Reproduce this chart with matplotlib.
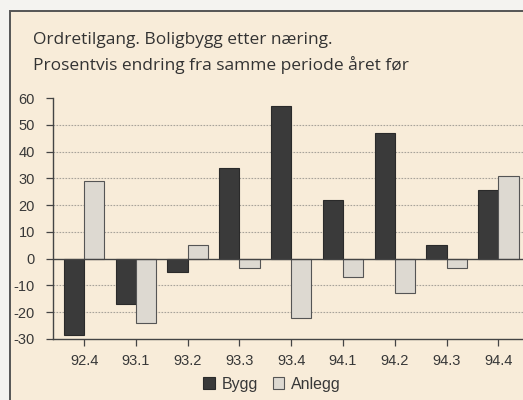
import numpy as np
import matplotlib.pyplot as plt
from matplotlib.patches import Rectangle

plt.rcParams['axes.unicode_minus'] = False

perioder = ['92.4', '93.1', '93.2', '93.3', '93.4', '94.1', '94.2', '94.3', '94.4']
bygg = [-28.5, -17, -5, 34, 57, 22, 47, 5, 25.5]
anlegg = [29, -24, 5, -3.5, -22, -7, -13, -3.5, 31]

bg = '#f8ecd9'
fig = plt.figure(figsize=(5.23, 4.0), dpi=100)
fig.patch.set_facecolor('#f4f3f0')

# ramme rundt figuren
fig.patches.append(Rectangle((10/523, -0.05), 1.2, 0.9725 + 0.05,
                             transform=fig.transFigure, facecolor=bg,
                             edgecolor='#555555', lw=1.4, zorder=-5))

fig.text(33/523, 0.90, 'Ordretilgang. Boligbygg etter næring.', fontsize=12.5,
         family='Open Sans', color='#333333', va='center')
fig.text(33/523, 0.8375, 'Prosentvis endring fra samme periode året før', fontsize=12.5,
         family='Open Sans', color='#333333', va='center')

ax = fig.add_axes([53/523, 1 - 339/400, 1 - 53/523, (339 - 98)/400])
ax.set_zorder(2)
ax.set_facecolor('none')
x = np.arange(len(perioder))
w = 0.39
ax.bar(x - w/2, bygg, w, color='#3a3a3a', edgecolor='#2a2a2a', lw=0.8, label='Bygg', zorder=3)
ax.bar(x + w/2, anlegg, w, color='#ddd9d1', edgecolor='#555555', lw=0.8, label='Anlegg', zorder=3)

ax.set_xlim(-0.6, 8.475)
ax.set_ylim(-30, 60)
ax.set_yticks(range(-30, 61, 10))
ax.set_xticks(x)
ax.set_xticklabels(perioder)
for v in [-20, -10, 10, 20, 30, 40, 50]:
    ax.axhline(v, color='#a8a39a', lw=0.8, ls=(0, (1.5, 1.2)), zorder=1)
ax.axhline(0, color='#444444', lw=1.0, zorder=4)

for s in ['top', 'right']:
    ax.spines[s].set_visible(False)
for s in ['left', 'bottom']:
    ax.spines[s].set_color('#444444')
    ax.spines[s].set_linewidth(1.0)
ax.tick_params(colors='#444444', labelsize=10.5, length=5, width=0.9)
ax.tick_params(axis='y', pad=8)
ax.tick_params(axis='x', pad=6)
for lab in ax.get_xticklabels() + ax.get_yticklabels():
    lab.set_family('Liberation Sans')
    lab.set_color('#383838')

leg = fig.legend(loc='center', bbox_to_anchor=(272/523, 1 - 384/400), ncol=2,
                 frameon=False, handlelength=0.75, handleheight=0.75,
                 handletextpad=0.4, columnspacing=0.9,
                 prop={'family': 'Liberation Sans', 'size': 11.5})
for t in leg.get_texts():
    t.set_color('#383838')

fig.savefig('out.png', dpi=100, facecolor=fig.get_facecolor())
